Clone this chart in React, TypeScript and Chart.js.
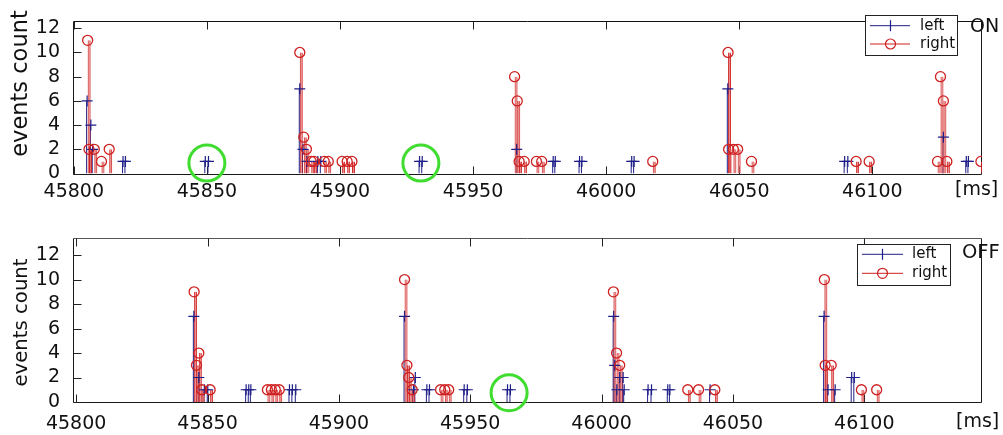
import React, { useEffect, useRef } from 'react';
import { Chart, registerables } from 'chart.js';

Chart.register(...registerables);

// ---------- data ----------
const SERIES_NAMES = ['left', 'right'];
const PANEL_LABELS = ['ON', 'OFF'];
const X_UNIT = '[ms]';
const Y_TITLE = 'events count';
const X_TICK_STEP = 50;
const Y_TICK_STEP = 2;

// [time ms, events count]
const onLeft: [number, number][] = [
  [45805.0, 6], [45806.4, 4], [45807.1, 2], [45818.5, 1], [45819.4, 1],
  [45849.4, 1], [45850.6, 1],
  [45884.9, 7], [45886.1, 2], [45887.6, 1], [45891.7, 1], [45892.8, 1],
  [45929.9, 1], [45930.9, 1],
  [45966.4, 2], [45980.1, 1], [45980.9, 1], [45990.0, 1], [45990.9, 1], [46009.6, 1], [46010.5, 1],
  [46045.7, 7], [46089.6, 1], [46090.8, 1],
  [46126.7, 3], [46135.3, 1], [46136.1, 1],
];
const onRight: [number, number][] = [
  [45805.2, 11], [45805.7, 2], [45807.7, 2], [45810.4, 1], [45813.3, 2],
  [45884.9, 10], [45886.4, 3], [45887.4, 2], [45889.2, 1], [45890.2, 1], [45894.1, 1], [45895.6, 1],
  [45900.8, 1], [45902.7, 1], [45904.5, 1],
  [45965.6, 8], [45966.6, 6], [45967.3, 1], [45969.2, 1], [45973.8, 1], [45975.8, 1],
  [46017.5, 1],
  [46045.8, 10], [46046.0, 2], [46047.8, 2], [46049.4, 2], [46054.6, 1],
  [46093.9, 1], [46098.8, 1],
  [46124.5, 1], [46125.6, 8], [46126.7, 6], [46128.0, 1],
  [46140.8, 1],
];
const offLeft: [number, number][] = [
  [45844.8, 7], [45846.7, 2], [45848.8, 1], [45850.1, 1],
  [45864.7, 1], [45865.7, 1], [45866.5, 1],
  [45881.2, 1], [45882.3, 1], [45883.6, 1],
  [45925.0, 7], [45929.1, 2], [45928.4, 1], [45933.5, 1], [45934.5, 1], [45947.7, 1], [45948.9, 1],
  [45964.2, 1], [45965.3, 1],
  [46004.6, 7], [46005.0, 3], [46006.9, 2], [46008.2, 2], [46005.8, 1], [46008.6, 1],
  [46017.7, 1], [46019.0, 1], [46025.2, 1], [46026.0, 1], [46041.3, 1],
  [46084.7, 7], [46086.2, 1], [46088.9, 1], [46095.2, 2], [46096.2, 2],
];
const offRight: [number, number][] = [
  [45844.9, 9], [45845.8, 3], [45846.7, 4], [45847.8, 1], [45851.0, 1],
  [45872.8, 1], [45874.3, 1], [45875.8, 1], [45877.3, 1],
  [45925.0, 10], [45925.9, 3], [45926.6, 2], [45927.9, 1], [45938.7, 1], [45940.3, 1], [45941.8, 1],
  [46004.5, 9], [46005.7, 4], [46006.9, 3], [46032.8, 1], [46036.9, 1], [46043.1, 1],
  [46084.8, 10], [46085.1, 3], [46087.4, 3], [46098.9, 1], [46104.7, 1],
];
// highlighted (circled) events
const onHighlights: [number, number][] = [[45850.0, 0.86], [45930.4, 0.86]];
const offHighlights: [number, number][] = [[45964.8, 0.75]];

// ---------- styles ----------
const BLUE = '#1e1e88';
const RED = '#cf2020';
const RED_FILL = 'rgba(228,120,120,0.9)';
const GREEN = '#40dd30';
const FONT = "'DejaVu Sans', Verdana, sans-serif";
const TEXT = '#111';

interface Panel {
  top: number; height: number; padTop: number; xAxisH: number; xPad: number;
  xMin: number; xMax: number; yMax: number;
  left: [number, number][]; right: [number, number][]; highlights: [number, number][];
  label: string; labelX: number; labelY: number; labelSize: number;
  unitX: number; unitY: number;
  titleSize: number; titleX: number; titleY: number;
  topFrame: string;
  legend: { x: number; y: number; w: number; h: number; rows: number[]; l1: number; l2: number; mx: number; tx: number; size: number };
}

const PANELS: Panel[] = [
  {
    top: 0, height: 217, padTop: 10, xAxisH: 43.5, xPad: -1,
    xMin: 45799.7, xMax: 46141.2, yMax: 12.6,
    left: onLeft, right: onRight, highlights: onHighlights,
    label: PANEL_LABELS[0], labelX: 970, labelY: 31.7, labelSize: 19,
    unitX: 955, unitY: 190,
    titleSize: 22.5, titleX: 21, titleY: 83.5,
    topFrame: '#111',
    legend: { x: 865, y: 15, w: 92, h: 40, rows: [25.7, 44], l1: 870, l2: 910, mx: 890.5, tx: 920, size: 15 },
  },
  {
    top: 217, height: 218, padTop: 19, xAxisH: 33, xPad: 3,
    xMin: 45798.8, xMax: 46144.8, yMax: 13.4,
    left: offLeft, right: offRight, highlights: offHighlights,
    label: PANEL_LABELS[1], labelX: 962, labelY: 41.3, labelSize: 19.5,
    unitX: 956, unitY: 205,
    titleSize: 19.7, titleX: 22, titleY: 105.5,
    topFrame: '#555',
    legend: { x: 857, y: 27, w: 92.5, h: 41, rows: [37.3, 56.3], l1: 862, l2: 903, mx: 882.5, tx: 912, size: 15 },
  },
];

function decor(p: Panel) {
  return {
    id: 'decor',
    beforeDatasetsDraw(chart: any) {
      const { ctx, chartArea: a } = chart;
      const xs = chart.scales.x;
      const ys = chart.scales.y;
      ctx.save();
      ctx.lineWidth = 1;
      const L = Math.round(a.left) + 0.5;
      const T = Math.round(a.top) + 0.5;
      const B = Math.round(a.bottom) + 0.5;
      const R = Math.round(a.right) - 0.5;
      const seg = (x1: number, y1: number, x2: number, y2: number) => {
        ctx.beginPath(); ctx.moveTo(x1, y1); ctx.lineTo(x2, y2); ctx.stroke();
      };
      ctx.strokeStyle = p.topFrame;
      seg(L, T, R, T);
      ctx.strokeStyle = '#1a1a1a';
      seg(L, T, L, B); seg(L, B, R, B); seg(R, T, R, B);
      ctx.strokeStyle = '#222';
      for (const t of xs.ticks) {
        const px = Math.round(xs.getPixelForValue(t.value)) + 0.5;
        seg(px, B, px, B - 8);
        seg(px, T, px, T + 8);
      }
      for (const t of ys.ticks) {
        const py = Math.round(ys.getPixelForValue(t.value)) + 0.5;
        seg(L, py, L + 8, py);
      }
      ctx.restore();
    },
    afterDraw(chart: any) {
      const { ctx } = chart;
      ctx.save();
      // y title
      ctx.fillStyle = TEXT;
      ctx.font = `${p.titleSize}px ${FONT}`;
      ctx.textAlign = 'center';
      ctx.textBaseline = 'middle';
      ctx.translate(p.titleX, p.titleY);
      ctx.rotate(-Math.PI / 2);
      ctx.fillText(Y_TITLE, 0, 0);
      ctx.setTransform(1, 0, 0, 1, 0, 0);
      // unit
      ctx.font = `19px ${FONT}`;
      ctx.textAlign = 'left';
      ctx.fillText(X_UNIT, p.unitX, p.unitY);
      // panel label
      ctx.textBaseline = 'alphabetic';
      ctx.font = `${p.labelSize}px ${FONT}`;
      ctx.fillText(p.label, p.labelX, p.labelY);
      // legend
      const lg = p.legend;
      ctx.fillStyle = '#fff';
      ctx.fillRect(lg.x, lg.y, lg.w, lg.h);
      ctx.strokeStyle = '#222';
      ctx.lineWidth = 1;
      ctx.strokeRect(Math.round(lg.x) + 0.5, Math.round(lg.y) + 0.5, Math.round(lg.w), Math.round(lg.h));
      const colors = [BLUE, RED];
      SERIES_NAMES.forEach((name, i) => {
        const y = lg.rows[i];
        ctx.strokeStyle = colors[i];
        ctx.lineWidth = 1;
        ctx.beginPath(); ctx.moveTo(lg.l1, y); ctx.lineTo(lg.l2, y); ctx.stroke();
        ctx.lineWidth = 1.2;
        ctx.beginPath();
        if (i === 0) {
          ctx.moveTo(lg.mx, y - 5.5); ctx.lineTo(lg.mx, y + 5.5);
        } else {
          ctx.arc(lg.mx, y, 5, 0, Math.PI * 2);
        }
        ctx.stroke();
        ctx.fillStyle = TEXT;
        ctx.font = `${lg.size}px ${FONT}`;
        ctx.textAlign = 'left';
        ctx.textBaseline = 'middle';
        ctx.fillText(name, lg.tx, y);
      });
      ctx.restore();
    },
  };
}

function buildConfig(p: Panel): any {
  const toXY = (arr: [number, number][]) => arr.map(([x, y]) => ({ x, y }));
  const left = toXY(p.left);
  const right = toXY(p.right);
  const tickFont = { family: FONT, size: 19 };
  return {
    type: 'scatter',
    data: {
      datasets: [
        { type: 'bar', label: SERIES_NAMES[0], data: left, xAxisID: 'x', yAxisID: 'y', backgroundColor: BLUE, barThickness: 1, inflateAmount: 0, order: 5 },
        {
          type: 'bar', label: SERIES_NAMES[1], data: right, xAxisID: 'x2', yAxisID: 'y', backgroundColor: RED_FILL, borderColor: RED,
          borderWidth: { left: 1, right: 1, top: 0, bottom: 0 }, borderSkipped: false, barThickness: 3, inflateAmount: 0, order: 4,
        },
        { type: 'scatter', data: left, xAxisID: 'x', pointStyle: 'cross', pointRadius: 5.5, borderColor: BLUE, borderWidth: 1.2, order: 3 },
        { type: 'scatter', data: right, xAxisID: 'x', pointStyle: 'circle', pointRadius: 5, borderColor: RED, backgroundColor: 'rgba(0,0,0,0)', borderWidth: 1.3, order: 2 },
        { type: 'scatter', data: toXY(p.highlights), xAxisID: 'x', pointStyle: 'circle', pointRadius: 18, borderColor: GREEN, backgroundColor: 'rgba(0,0,0,0)', borderWidth: 3, clip: false, order: 1 },
      ],
    },
    options: {
      responsive: false,
      animation: false,
      events: [],
      layout: { padding: { top: p.padTop, left: 0, right: 0, bottom: 0 } },
      plugins: { legend: { display: false }, tooltip: { enabled: false } },
      scales: {
        x: {
          type: 'linear', position: 'bottom', min: p.xMin, max: p.xMax, offset: false,
          grid: { display: false }, border: { display: false },
          ticks: {
            stepSize: X_TICK_STEP, includeBounds: false, autoSkip: false, maxRotation: 0, minRotation: 0,
            font: tickFont, color: TEXT, padding: p.xPad,
            callback: (v: number) => String(Math.round(v)),
          },
          afterFit: (s: any) => { s.height = p.xAxisH; },
        },
        x2: { type: 'linear', display: false, min: p.xMin, max: p.xMax, offset: false },
        y: {
          type: 'linear', position: 'left', min: 0, max: p.yMax,
          grid: { display: false }, border: { display: false },
          ticks: {
            stepSize: Y_TICK_STEP, includeBounds: false, autoSkip: false, font: tickFont, color: TEXT, padding: 5,
            callback: (v: number) => String(Math.round(v)),
          },
          afterFit: (s: any) => { s.width = 73; },
        },
      },
    },
    plugins: [decor(p)],
  };
}

function PanelChart({ panel }: { panel: Panel }) {
  const ref = useRef<HTMLCanvasElement>(null);
  useEffect(() => {
    const chart = new Chart(ref.current as HTMLCanvasElement, buildConfig(panel));
    return () => chart.destroy();
  }, [panel]);
  return (
    <canvas
      ref={ref}
      width={1003}
      height={panel.height}
      style={{ position: 'absolute', left: 0, top: panel.top, display: 'block' }}
    />
  );
}

export default function App() {
  return (
    <div style={{ position: 'absolute', left: 0, top: 0, width: 1003, height: 435, background: '#fff', overflow: 'hidden' }}>
      {PANELS.map((p, i) => (
        <PanelChart key={i} panel={p} />
      ))}
    </div>
  );
}
